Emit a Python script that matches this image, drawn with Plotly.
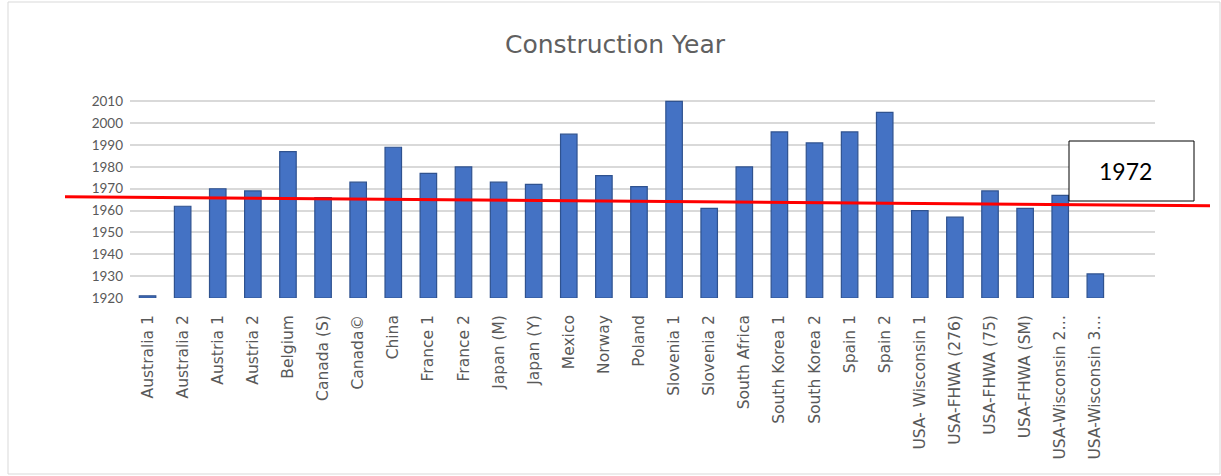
import plotly.graph_objects as go

categories = ["Australia 1", "Australia 2", "Austria 1", "Austria 2", "Belgium",
              "Canada (S)", "Canada©", "China", "France 1", "France 2",
              "Japan (M)", "Japan (Y)", "Mexico", "Norway", "Poland",
              "Slovenia 1", "Slovenia 2", "South Africa", "South Korea 1", "South Korea 2",
              "Spain 1", "Spain 2", "USA- Wisconsin 1", "USA-FHWA (276)", "USA-FHWA (75)",
              "USA-FHWA (SM)", "USA-Wisconsin 2…", "USA-Wisconsin 3…"]
years = [1921, 1962, 1970, 1969, 1987, 1966, 1973, 1989, 1977, 1980,
         1973, 1972, 1995, 1976, 1971, 2010, 1961, 1980, 1996, 1991,
         1996, 2005, 1960, 1957, 1969, 1961, 1967, 1931]
y_ticks = [1920, 1930, 1940, 1950, 1960, 1970, 1980, 1990, 2000, 2010]
ref_label = "1972"
ref_line_y = [1966.4, 1962.2]  # hand-drawn red line (left, right ends)

W, H = 1221, 476
ml, mr, mt, mb = 130, 66, 97, 178

fig = go.Figure()
fig.add_trace(go.Bar(
    x=list(range(len(categories))), y=[v - 1920 for v in years], base=1920,
    marker=dict(color="#4472C4", line=dict(color="#2F528F", width=1.2)),
    width=0.47, hoverinfo="skip", showlegend=False,
))

fig.update_layout(
    width=W, height=H,
    margin=dict(l=ml, r=mr, t=mt, b=mb),
    paper_bgcolor="white", plot_bgcolor="white",
    font=dict(family="DejaVu Sans, sans-serif", color="#595959"),
    title=dict(text="Construction Year", x=615 / W, xref="container", xanchor="center",
               y=1 - 44 / H, yanchor="middle",
               font=dict(size=25, color="#606060", family="DejaVu Sans, sans-serif")),
    xaxis=dict(range=[-0.5, 28.7], tickmode="array",
               tickvals=list(range(len(categories))), ticktext=categories,
               tickangle=-90, tickfont=dict(size=15.5, color="#595959",
                                            family="DejaVu Sans, sans-serif"),
               showgrid=False, zeroline=False, showline=False, ticks="",
               ticklabelstandoff=13),
    yaxis=dict(range=[1920, 2012], tickmode="array", tickvals=y_ticks,
               tickfont=dict(size=13.5, color="#595959", family="Lato, sans-serif"),
               showgrid=True, gridcolor="#D9D9D9", gridwidth=1.5,
               zeroline=False, showline=False, ticks="",
               ticklabelstandoff=6),
)

pw = W - ml - mr
ph = H - mt - mb
def px_x(p):
    return (p - ml) / pw
def px_y(p):
    return (H - mb - p) / ph

# outer chart border
fig.add_shape(type="rect", xref="paper", yref="paper",
              x0=px_x(8), x1=px_x(1220), y0=px_y(474), y1=px_y(2),
              line=dict(color="#D9D9D9", width=1), fillcolor="rgba(0,0,0,0)", layer="below")

# red reference line
fig.add_shape(type="line", xref="paper", yref="y",
              x0=px_x(65), x1=px_x(1210), y0=ref_line_y[0], y1=ref_line_y[1],
              line=dict(color="#FF0000", width=3))

# label box
fig.add_shape(type="rect", xref="paper", yref="paper",
              x0=px_x(1069), x1=px_x(1194), y0=px_y(201), y1=px_y(141),
              line=dict(color="#000000", width=1), fillcolor="white")
fig.add_annotation(text=ref_label, xref="paper", yref="paper",
                   x=px_x(1097), y=px_y(171), xanchor="left", yanchor="middle",
                   showarrow=False, font=dict(size=23, color="#000000",
                                              family="Lato, Open Sans, sans-serif"))

fig.write_html("out.html")
